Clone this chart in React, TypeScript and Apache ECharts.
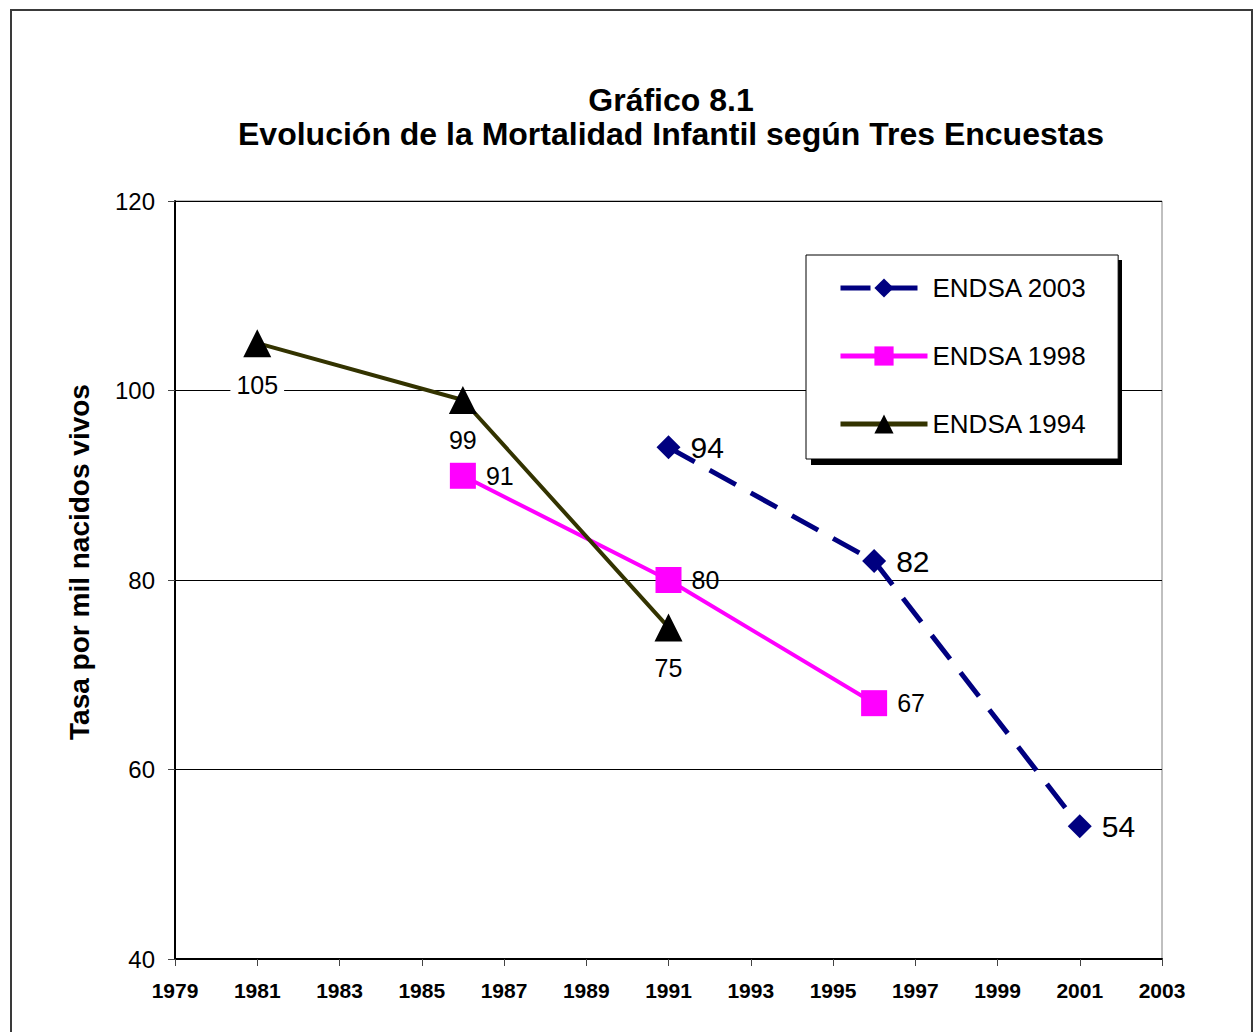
import React, { useEffect, useRef } from "react";
import * as echarts from "echarts";

// ---- data ----
const X_START = 1979;
const X_END = 2003;
const X_STEP = 2;
const Y_MIN = 40;
const Y_MAX = 120;
const Y_STEP = 20;

const seriesNames = ["ENDSA 2003", "ENDSA 1998", "ENDSA 1994"];
const years2003 = [1991, 1996, 2001];
const values2003 = [94, 82, 54];
const years1998 = [1986, 1991, 1996];
const values1998 = [91, 80, 67];
const years1994 = [1981, 1986, 1991];
const values1994 = [105, 99, 75];

const titleLines = ["Gráfico 8.1", "Evolución de la Mortalidad Infantil según Tres Encuestas"];
const yAxisTitle = "Tasa por mil nacidos vivos";

const FONT = "'Liberation Sans', Arial, Helvetica, sans-serif";

const toPoints = (years: number[], values: number[]) =>
  years.map((y, i) => [y - X_START, values[i]]);

export default function App() {
  const ref = useRef<HTMLDivElement>(null);

  useEffect(() => {
    if (!ref.current) return;
    const chart = echarts.init(ref.current, undefined, { renderer: "svg" });

    const pts1994 = toPoints(years1994, values1994).map((p, i) =>
      i === 0
        ? { value: p, label: { backgroundColor: "#ffffff", padding: [1, 6, 1, 6] } }
        : { value: p }
    );

    chart.setOption({
      animation: false,
      backgroundColor: "#ffffff",
      textStyle: { fontFamily: FONT },
      title: {
        text: titleLines.join("\n"),
        left: 671,
        top: 83,
        padding: 0,
        textAlign: "center",
        textStyle: {
          fontFamily: FONT,
          fontSize: 32,
          fontWeight: "bold",
          color: "#000",
          lineHeight: 34,
        },
      },
      grid: {
        left: 175,
        top: 201,
        right: 1254 - 1162,
        bottom: 1032 - 959,
        show: true,
        borderColor: "#808080",
        borderWidth: 1,
        backgroundColor: "transparent",
      },
      legend: {
        orient: "vertical",
        left: 806,
        top: 255,
        padding: [20, 31, 22, 32],
        itemGap: 42,
        itemWidth: 87,
        itemHeight: 24,
        backgroundColor: "#ffffff",
        borderColor: "#000000",
        borderWidth: 1,
        borderRadius: 0,
        data: [
          { name: seriesNames[0], lineStyle: { width: 5, color: "#000080", type: [30, 17] } },
          { name: seriesNames[1], lineStyle: { width: 5, color: "#ff00ff" } },
          { name: seriesNames[2], lineStyle: { width: 5, color: "#333300" } },
        ],
        textStyle: { fontFamily: FONT, fontSize: 26, color: "#000" },
        z: 10,
      },
      xAxis: {
        type: "value",
        min: 0,
        max: X_END - X_START,
        interval: X_STEP,
        axisLine: { show: true, onZero: false, lineStyle: { color: "#000", width: 2 } },
        axisTick: { show: true, length: 7, lineStyle: { color: "#444", width: 1 } },
        splitLine: { show: false },
        axisLabel: {
          margin: 21,
          fontFamily: FONT,
          fontSize: 21,
          fontWeight: "bold",
          color: "#000",
          formatter: (v: number) => String(v + X_START),
        },
      },
      yAxis: {
        type: "value",
        min: Y_MIN,
        max: Y_MAX,
        interval: Y_STEP,
        axisLine: { show: true, onZero: false, lineStyle: { color: "#000", width: 2 } },
        axisTick: { show: true, length: 7, lineStyle: { color: "#444", width: 1 } },
        splitLine: { show: true, lineStyle: { color: "#000", width: 1 } },
        axisLabel: {
          margin: 20,
          fontFamily: FONT,
          fontSize: 24,
          color: "#000",
        },
      },
      graphic: [
        {
          type: "rect",
          shape: { x: 11, y: 10, width: 1241, height: 1060 },
          style: { fill: "none", stroke: "#3a3a3a", lineWidth: 2 },
          z: 0,
        },
        {
          type: "rect",
          shape: { x: 811, y: 260, width: 311, height: 205 },
          style: { fill: "#000000" },
          z: 5,
        },
        {
          type: "text",
          x: 79,
          y: 562,
          rotation: Math.PI / 2,
          style: {
            text: yAxisTitle,
            fontFamily: FONT,
            fontSize: 28,
            fontWeight: "bold",
            fill: "#000",
            textAlign: "center",
            textVerticalAlign: "middle",
          },
          z: 5,
        },
      ],
      series: [
        {
          name: seriesNames[0],
          type: "line",
          data: toPoints(years2003, values2003),
          symbol: "diamond",
          symbolSize: 24,
          itemStyle: { color: "#000080" },
          lineStyle: { color: "#000080", width: 5, type: [30, 17] },
          label: {
            show: true,
            position: "right",
            distance: 10,
            fontFamily: FONT,
            fontSize: 30,
            color: "#000",
          },
          z: 2,
        },
        {
          name: seriesNames[1],
          type: "line",
          data: toPoints(years1998, values1998),
          symbol: "rect",
          symbolSize: 26,
          itemStyle: { color: "#ff00ff" },
          lineStyle: { color: "#ff00ff", width: 4 },
          label: {
            show: true,
            position: "right",
            distance: 10,
            fontFamily: FONT,
            fontSize: 25,
            color: "#000",
          },
          z: 3,
        },
        {
          name: seriesNames[2],
          type: "line",
          data: pts1994,
          symbol: "triangle",
          symbolSize: 28,
          itemStyle: { color: "#000000" },
          lineStyle: { color: "#333300", width: 4 },
          label: {
            show: true,
            position: "bottom",
            distance: 14,
            fontFamily: FONT,
            fontSize: 25,
            color: "#000",
          },
          z: 4,
        },
      ],
    });

    return () => chart.dispose();
  }, []);

  return (
    <div
      ref={ref}
      style={{ position: "fixed", left: 0, top: 0, width: 1254, height: 1032 }}
    />
  );
}
